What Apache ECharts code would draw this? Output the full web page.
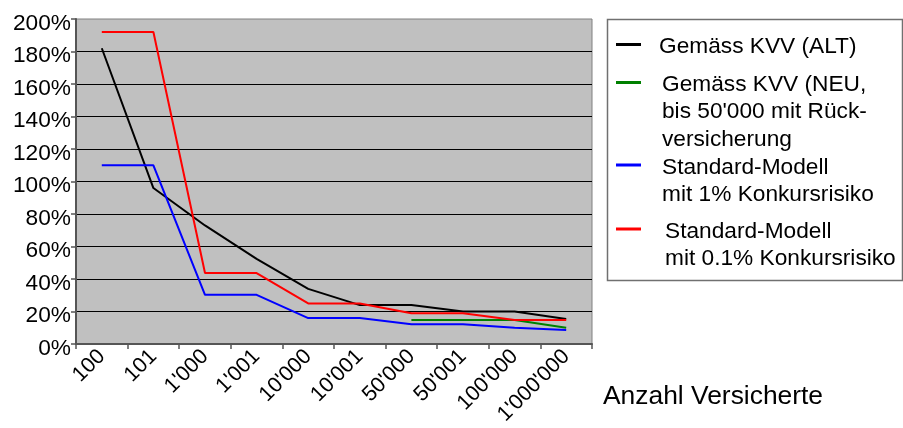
<!DOCTYPE html>
<html>
<head>
<meta charset="utf-8">
<script src="https://cdn.jsdelivr.net/npm/echarts@6/dist/echarts.min.js"></script>
<style>
html,body{margin:0;padding:0;background:#fff;}
#chart{width:903px;height:428px;}
</style>
</head>
<body>
<div id="chart"></div>
<script>
// ---- data ----
var categories = ["100", "101", "1'000", "1'001", "10'000", "10'001", "50'000", "50'001", "100'000", "1'000'000"];
var seriesNames = ["Gemäss KVV (ALT)", "Gemäss KVV (NEU, bis 50'000 mit Rückversicherung", "Standard-Modell mit 1% Konkursrisiko", "Standard-Modell mit 0.1% Konkursrisiko"];
var legendLabels = ["Gemäss KVV (ALT)", "Gemäss KVV (NEU,\nbis 50'000 mit Rück-\nversicherung", "Standard-Modell\nmit 1% Konkursrisiko", "Standard-Modell\nmit 0.1% Konkursrisiko"];
var kvvAlt = [182, 96, 73, 52.4, 34, 24, 24, 20, 20, 15.4];
var kvvNeu = [null, null, null, null, null, null, 14.8, 14.8, 14.8, 10];
var std1 = [110, 110, 30.3, 30.3, 16, 16, 12.2, 12.2, 10, 8.7];
var std01 = [192, 192, 43.7, 43.7, 25, 25, 19, 19, 14.8, 14.8];
var yTicks = [0, 20, 40, 60, 80, 100, 120, 140, 160, 180, 200];
var xAxisTitle = "Anzahl Versicherte";

var colors = ["#000000", "#008000", "#0000ff", "#ff0000"];
var allData = [kvvAlt, kvvNeu, std1, std01];
var FONT = "'Liberation Sans', Arial, sans-serif";

var chart = echarts.init(document.getElementById('chart'));

var series = allData.map(function (d, i) {
  return {
    name: seriesNames[i],
    type: 'line',
    data: d,
    symbol: 'none',
    connectNulls: false,
    lineStyle: { color: colors[i], width: 2 },
    itemStyle: { color: colors[i] },
    z: 3 + i
  };
});

// legend drawn with graphic elements
var legendY = [44.5, 82.5, 165, 229];
var legendTextTop = [33, 71, 154, 218];
var legendTextX = [659, 662, 662, 665];
var graphics = [
  {
    type: 'rect',
    shape: { x: 607.5, y: 19.5, width: 295, height: 261 },
    style: { fill: '#ffffff', stroke: '#707070', lineWidth: 1.5 },
    z: 10
  },
  {
    type: 'text',
    x: 603, y: 397,
    style: { text: xAxisTitle, font: '26.4px ' + FONT, fill: '#000', textVerticalAlign: 'middle' },
    z: 10
  }
];
legendLabels.forEach(function (lbl, i) {
  graphics.push({
    type: 'line',
    shape: { x1: 616, y1: legendY[i], x2: 641, y2: legendY[i] },
    style: { stroke: colors[i], lineWidth: 3 },
    z: 11
  });
  graphics.push({
    type: 'text',
    x: legendTextX[i], y: legendTextTop[i],
    style: { text: lbl, font: '22.7px ' + FONT, lineHeight: 27.3, fill: '#000', textVerticalAlign: 'top' },
    z: 11
  });
});

chart.setOption({
  animation: false,
  backgroundColor: '#ffffff',
  grid: {
    left: 76, top: 19, width: 516, height: 328,
    show: true, backgroundColor: '#c0c0c0', borderColor: '#808080', borderWidth: 1
  },
  xAxis: {
    type: 'category',
    data: categories,
    boundaryGap: true,
    axisLine: { show: true, lineStyle: { color: '#555555', width: 2 } },
    axisTick: { show: true, length: 5, lineStyle: { color: '#555555', width: 1.5 } },
    axisLabel: { interval: 0, rotate: 45, margin: 9, fontSize: 21.5, fontFamily: FONT, color: '#000' },
    splitLine: { show: false }
  },
  yAxis: {
    type: 'value',
    min: yTicks[0], max: yTicks[yTicks.length - 1], interval: yTicks[1] - yTicks[0],
    axisLine: { show: true, lineStyle: { color: '#555555', width: 2 } },
    axisTick: { show: true, length: 5, lineStyle: { color: '#555555', width: 1.5 } },
    axisLabel: { margin: 5, fontSize: 22.7, fontFamily: FONT, color: '#000', formatter: '{value}%', verticalAlign: 'top', lineHeight: 9 },
    splitLine: { show: true, showMaxLine: false, lineStyle: { color: '#000000', width: 1 } }
  },
  series: series,
  graphic: graphics
});
</script>
</body>
</html>
